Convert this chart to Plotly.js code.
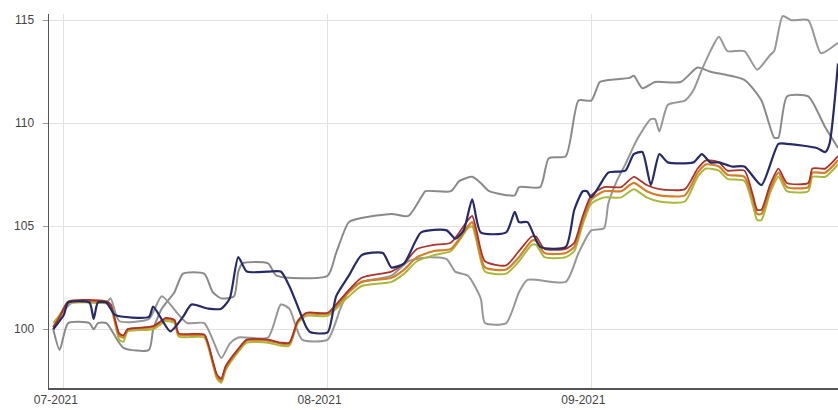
<!DOCTYPE html>
<html>
<head>
<meta charset="utf-8">
<script src="https://cdn.plot.ly/plotly-3.0.1.min.js"></script>
<style>html,body{margin:0;padding:0;background:#fff}#chart{width:838px;height:410px}</style>
</head>
<body>
<div id="chart"></div>
<script>
// ---- tick labels ----
const monthTicks = ['2021-07-01', '2021-08-01', '2021-09-01'];
const monthLabels = ['07-2021', '08-2021', '09-2021'];

// ---- gray series A ----
const grayADates = ['2021-06-29 18:00','2021-06-30 12:00','2021-07-01 12:00','2021-07-04','2021-07-04 12:00','2021-07-05','2021-07-06','2021-07-08','2021-07-11','2021-07-11 12:00','2021-07-12 12:00','2021-07-14','2021-07-15','2021-07-17 12:00','2021-07-18 12:00','2021-07-19 12:00','2021-07-21','2021-07-21 12:00','2021-07-22','2021-07-25','2021-07-26','2021-08-01','2021-08-02','2021-08-03 12:00','2021-08-05','2021-08-08 12:00','2021-08-10 12:00','2021-08-12','2021-08-12 12:00','2021-08-15 12:00','2021-08-16 12:00','2021-08-18','2021-08-19','2021-08-20','2021-08-23','2021-08-23 12:00','2021-08-26','2021-08-27','2021-08-29','2021-08-30 12:00','2021-09-01','2021-09-02','2021-09-03','2021-09-05 12:00','2021-09-06','2021-09-07','2021-09-08 12:00','2021-09-11 12:00','2021-09-13 12:00','2021-09-15','2021-09-19','2021-09-21','2021-09-22 12:00','2021-09-23','2021-09-24','2021-09-26 12:00','2021-09-28 12:00','2021-09-30'];
const grayAValues = [100.0,99.0,100.3,100.3,100.0,100.3,100.3,99.1,99.0,100.0,101.0,101.8,102.7,102.7,101.8,101.5,101.6,102.8,103.2,103.2,102.6,102.6,103.7,105.2,105.4,105.6,105.5,106.4,106.7,106.7,107.2,107.4,107.1,106.7,106.5,106.9,106.9,108.3,108.4,111.1,111.1,112.0,112.1,112.2,112.3,111.7,112.0,112.0,112.7,112.5,112.1,111.1,109.3,109.3,111.3,111.3,109.8,108.8];

// ---- gray series B ----
const grayBDates = ['2021-06-29 18:00','2021-07-01','2021-07-02','2021-07-06','2021-07-06 12:00','2021-07-07 12:00','2021-07-11','2021-07-12 12:00','2021-07-14 12:00','2021-07-15 12:00','2021-07-17 12:00','2021-07-18 12:00','2021-07-19 12:00','2021-07-20 12:00','2021-07-21 12:00','2021-07-25','2021-07-26 12:00','2021-07-27 12:00','2021-07-29','2021-08-01','2021-08-02 12:00','2021-08-03 12:00','2021-08-05','2021-08-08 12:00','2021-08-10 12:00','2021-08-13','2021-08-15','2021-08-16','2021-08-17 12:00','2021-08-19','2021-08-19 12:00','2021-08-22','2021-08-23 12:00','2021-08-24 12:00','2021-08-29','2021-08-30 12:00','2021-09-01','2021-09-02 12:00','2021-09-03','2021-09-04','2021-09-05','2021-09-06','2021-09-06 12:00','2021-09-08','2021-09-08 12:00','2021-09-09','2021-09-10','2021-09-12','2021-09-13','2021-09-14','2021-09-15','2021-09-16','2021-09-17','2021-09-19','2021-09-20 12:00','2021-09-22','2021-09-22 12:00','2021-09-23 12:00','2021-09-24 12:00','2021-09-26 12:00','2021-09-28','2021-09-30'];
const grayBValues = [100.0,100.9,101.3,101.3,101.5,100.4,100.5,101.6,100.7,100.3,100.3,99.5,98.6,99.3,99.6,99.6,101.2,101.0,99.5,99.5,101.0,101.9,102.3,102.6,103.3,103.5,103.4,102.8,102.6,101.5,100.3,100.3,101.8,102.4,102.3,103.7,104.8,104.9,106.1,107.2,108.0,108.9,109.3,110.2,110.2,109.6,110.9,111.1,111.6,112.6,113.5,114.2,113.5,113.5,112.6,113.3,113.5,115.2,115.0,115.0,113.4,113.9];

// ---- red / orange / olive series share dates ----
const groupDates = ['2021-06-29 18:00','2021-06-30 12:00','2021-07-01 12:00','2021-07-06','2021-07-06 12:00','2021-07-07 12:00','2021-07-08','2021-07-08 12:00','2021-07-11 12:00','2021-07-13','2021-07-14','2021-07-14 12:00','2021-07-17 12:00','2021-07-18','2021-07-19','2021-07-19 12:00','2021-07-20','2021-07-21 12:00','2021-07-22 12:00','2021-07-25','2021-07-26 12:00','2021-07-27 12:00','2021-07-28 12:00','2021-07-29 12:00','2021-08-01','2021-08-02','2021-08-03 12:00','2021-08-05','2021-08-08 12:00','2021-08-10','2021-08-11 12:00','2021-08-13 12:00','2021-08-15 12:00','2021-08-17 12:00','2021-08-18','2021-08-18 12:00','2021-08-19 12:00','2021-08-22','2021-08-23 12:00','2021-08-25','2021-08-25 12:00','2021-08-26 12:00','2021-08-29','2021-08-30','2021-08-31','2021-09-01','2021-09-02 12:00','2021-09-04 12:00','2021-09-06','2021-09-07 12:00','2021-09-09','2021-09-12','2021-09-13 12:00','2021-09-14 12:00','2021-09-16','2021-09-17','2021-09-19','2021-09-20','2021-09-20 12:00','2021-09-21','2021-09-22','2021-09-23','2021-09-24','2021-09-26 12:00','2021-09-27','2021-09-28 12:00','2021-09-30'];
const orangeValues = [100.1,100.6,101.3,101.3,101.2,99.7,99.6,100.0,100.1,100.5,100.4,99.75,99.7,99.2,97.7,97.5,98.1,99.0,99.45,99.45,99.3,99.3,100.4,100.75,100.75,101.1,101.8,102.3,102.5,102.9,103.5,103.8,103.9,105.0,105.2,104.5,103.0,102.9,103.5,104.3,104.3,103.7,103.7,104.0,105.3,106.3,106.7,106.7,107.1,106.7,106.5,106.5,107.6,108.0,107.9,107.5,107.4,106.3,105.6,105.6,106.8,107.6,106.9,106.9,107.6,107.6,108.2];
const redValues = [100.1,100.6,101.35,101.35,101.2,99.8,99.7,100.0,100.15,100.55,100.45,99.8,99.75,99.25,97.8,97.6,98.2,99.05,99.5,99.5,99.35,99.35,100.4,100.8,100.8,101.2,101.9,102.5,102.8,103.2,103.9,104.1,104.2,105.3,105.5,104.8,103.3,103.1,103.8,104.5,104.5,103.9,103.9,104.2,105.5,106.5,106.9,106.9,107.4,107.0,106.8,106.8,107.8,108.2,108.1,107.7,107.7,106.5,105.8,105.8,107.0,107.8,107.1,107.1,107.8,107.8,108.4];
const oliveValues = [100.3,100.7,101.25,101.25,101.1,99.5,99.4,99.9,100.0,100.4,100.3,99.65,99.6,99.1,97.6,97.4,98.0,98.9,99.35,99.35,99.2,99.2,100.3,100.65,100.65,101.0,101.6,102.1,102.3,102.7,103.3,103.6,103.8,104.9,105.0,104.3,102.8,102.7,103.3,104.1,104.1,103.5,103.5,103.8,105.1,106.1,106.4,106.4,106.8,106.4,106.2,106.2,107.4,107.8,107.7,107.3,107.2,106.0,105.3,105.3,106.6,107.4,106.7,106.7,107.4,107.4,108.0];

// ---- navy series ----
const navyDates = ['2021-06-29 18:00','2021-07-01','2021-07-01 12:00','2021-07-04','2021-07-04 12:00','2021-07-05','2021-07-06','2021-07-07','2021-07-11','2021-07-11 12:00','2021-07-13 12:00','2021-07-15','2021-07-16','2021-07-18','2021-07-19 12:00','2021-07-20 12:00','2021-07-21 12:00','2021-07-22 12:00','2021-07-25','2021-07-26 12:00','2021-07-27 12:00','2021-07-28 12:00','2021-07-29 12:00','2021-07-30','2021-08-01','2021-08-02','2021-08-03 12:00','2021-08-05','2021-08-07 12:00','2021-08-08 12:00','2021-08-10','2021-08-12','2021-08-15','2021-08-16','2021-08-17','2021-08-18','2021-08-19','2021-08-22','2021-08-23','2021-08-23 12:00','2021-08-24 12:00','2021-08-26','2021-08-29','2021-08-30','2021-08-31','2021-08-31 12:00','2021-09-01','2021-09-02','2021-09-03','2021-09-05','2021-09-06','2021-09-07','2021-09-08','2021-09-09','2021-09-10','2021-09-13','2021-09-14','2021-09-15','2021-09-16','2021-09-17 12:00','2021-09-19','2021-09-21','2021-09-23','2021-09-24','2021-09-27 12:00','2021-09-28 12:00','2021-09-29','2021-09-30'];
const navyValues = [100.0,100.7,101.3,101.3,100.5,101.3,101.3,100.7,100.6,101.1,99.9,100.6,101.2,101.0,101.0,101.5,103.5,102.8,102.8,102.8,102.1,101.1,100.1,99.85,99.85,101.6,102.6,103.6,103.7,103.0,103.2,104.7,104.8,104.4,104.8,106.3,104.7,104.7,105.7,105.2,105.2,104.0,104.0,105.8,106.7,106.7,106.4,107.0,107.6,107.7,108.5,108.6,107.0,108.5,108.1,108.1,108.5,108.1,108.1,107.9,107.9,107.0,109.0,109.0,108.8,108.6,109.0,112.9];

function line(x, y, color, width) {
  return {x: x, y: y, type: 'scatter', mode: 'lines', hoverinfo: 'skip',
          line: {color: color, width: width, shape: 'spline', smoothing: 0.6}};
}

const traces = [
  line(grayADates, grayAValues, '#8a8a8a', 2),
  line(grayBDates, grayBValues, '#979797', 2),
  line(groupDates, oliveValues, '#a9b83a', 2),
  line(groupDates, orangeValues, '#d47f2a', 2.2),
  line(groupDates, redValues, '#a8342c', 1.8),
  line(navyDates, navyValues, '#262a66', 2.2)
];

const fontFam = 'Liberation Sans, Arial, sans-serif';

const layout = {
  width: 838, height: 410,
  margin: {l: 49, r: 0, t: 14, b: 22, pad: 0},
  paper_bgcolor: '#fff', plot_bgcolor: '#fff',
  showlegend: false,
  hovermode: false,
  xaxis: {
    type: 'date',
    range: ['2021-06-29 06:00', '2021-09-30 00:00'],
    tickmode: 'array', tickvals: monthTicks, ticktext: monthLabels,
    showgrid: true, gridcolor: '#e2e2e2', gridwidth: 1,
    showline: true, linecolor: '#555', linewidth: 2,
    ticks: '',
    ticklabelshift: -8,
    tickfont: {family: fontFam, size: 12, color: '#444'}, zeroline: false
  },
  yaxis: {
    range: [97.15, 115.3],
    tickmode: 'array', tickvals: [100, 105, 110, 115],
    showgrid: true, gridcolor: '#e2e2e2', gridwidth: 1,
    showline: true, linecolor: '#555', linewidth: 1.5,
    ticks: 'outside', ticklen: 5, tickcolor: '#999',
    ticklabelstandoff: 6,
    tickfont: {family: fontFam, size: 12, color: '#444'}, zeroline: false
  }
};

Plotly.newPlot('chart', traces, layout, {staticPlot: true, displayModeBar: false});
</script>
</body>
</html>
